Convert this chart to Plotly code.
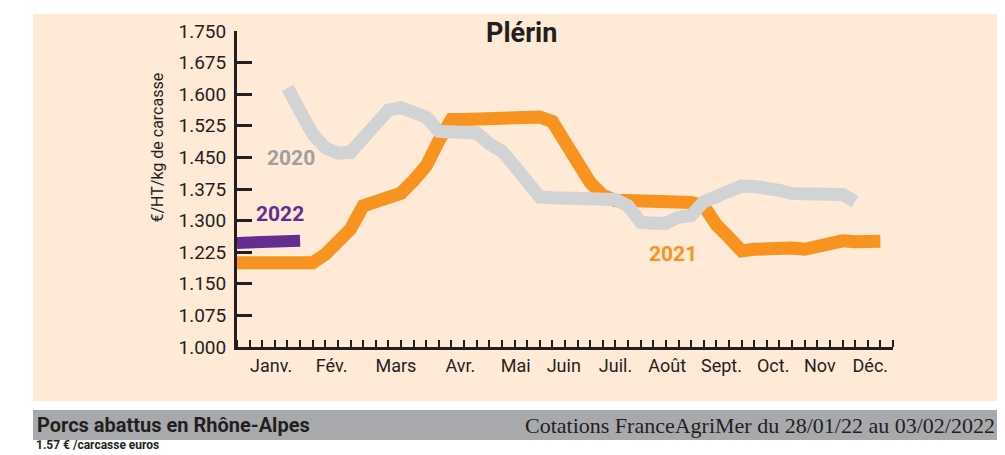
import plotly.graph_objects as go

# ---- data (weekly quotations, €/HT/kg carcasse) ----
weeks_2021 = list(range(0, 52))
vals_2021 = [1.200, 1.200, 1.200, 1.200, 1.200, 1.200, 1.200, 1.220, 1.245, 1.280,
             1.335, 1.345, 1.352, 1.365, 1.395, 1.430, 1.490, 1.540, 1.540, 1.540,
             1.541, 1.545, 1.546, 1.546, 1.546, 1.535, 1.490, 1.435, 1.390, 1.360,
             1.348, 1.348, 1.347, 1.347, 1.345, 1.345, 1.343, 1.335, 1.290, 1.260,
             1.228, 1.232, 1.234, 1.234, 1.235, 1.232, 1.240, 1.250, 1.252, 1.250,
             1.250, 1.251]

weeks_2020 = list(range(4, 50))
vals_2020 = [1.615, 1.565, 1.505, 1.473, 1.460, 1.462, 1.498, 1.537, 1.562, 1.568,
             1.558, 1.546, 1.512, 1.512, 1.512, 1.508, 1.482, 1.465, 1.430, 1.390,
             1.356, 1.354, 1.354, 1.354, 1.354, 1.354, 1.350, 1.335, 1.296, 1.294,
             1.294, 1.308, 1.312, 1.345, 1.360, 1.372, 1.382, 1.381, 1.380, 1.372,
             1.364, 1.363, 1.362, 1.362, 1.362, 1.345]

weeks_2022 = list(range(0, 6))
vals_2022 = [1.247, 1.248, 1.249, 1.250, 1.251, 1.252]

months = ["Janv.", "Fév.", "Mars", "Avr.", "Mai", "Juin", "Juil.", "Août",
          "Sept.", "Oct.", "Nov", "Déc."]
month_pos = [2.7, 7.5, 12.6, 17.7, 22.1, 25.9, 30.0, 34.1, 38.4, 42.5, 46.2, 50.2]

y_ticks = [1.000, 1.075, 1.150, 1.225, 1.300, 1.375, 1.450, 1.525, 1.600, 1.675, 1.750]

ORANGE = "#F7931E"
GREY = "#D1D3D4"
PURPLE = "#662D91"
DARK = "#231F20"
BEIGE = "#FFEAD8"

fig = go.Figure()
fig.add_trace(go.Scatter(x=weeks_2021, y=vals_2021, mode="lines",
                         line=dict(color=ORANGE, width=13), hoverinfo="skip"))
fig.add_trace(go.Scatter(x=weeks_2020, y=vals_2020, mode="lines",
                         line=dict(color=GREY, width=13), hoverinfo="skip"))
fig.add_trace(go.Scatter(x=weeks_2022, y=vals_2022, mode="lines",
                         line=dict(color=PURPLE, width=12), hoverinfo="skip"))

# background panels
fig.add_shape(type="rect", xref="paper", yref="paper", x0=-0.311, x1=1.2, y0=-0.171, y1=1.054,
              fillcolor=BEIGE, line_width=0, layer="below")
fig.add_shape(type="rect", xref="paper", yref="paper", x0=-0.311, x1=1.2, y0=-0.294, y1=-0.199,
              fillcolor="#A7A9AC", line_width=0, layer="below")

font_main = "Roboto, 'DejaVu Sans', sans-serif"

fig.update_layout(
    width=997, height=447,
    margin=dict(l=229, r=112, t=23, b=108),
    paper_bgcolor="white", plot_bgcolor="rgba(0,0,0,0)",
    showlegend=False,
    font=dict(family=font_main, color=DARK),
    xaxis=dict(range=[0, 52], tickmode="array", tickvals=month_pos, ticktext=months,
               ticks="", showgrid=False, zeroline=False,
               showline=True, linecolor=DARK, linewidth=3,
               tickfont=dict(size=18, color=DARK),
               minor=dict(tickmode="linear", tick0=0, dtick=1, ticks="inside",
                          ticklen=7, tickwidth=2, tickcolor=DARK, showgrid=False)),
    yaxis=dict(range=[1.0, 1.75], tickmode="array", tickvals=y_ticks,
               ticktext=[f"{v:.3f}" for v in y_ticks],
               ticks="inside", ticklen=15, tickwidth=3, tickcolor=DARK,
               showgrid=False, zeroline=False,
               showline=True, linecolor=DARK, linewidth=3,
               tickfont=dict(size=19, color=DARK), ticklabelstandoff=4),
)

fig.add_annotation(text="<b>Plérin</b>", xref="paper", yref="paper", x=0.433, y=0.994,
                   showarrow=False, font=dict(size=27, color=DARK), xanchor="center", yanchor="middle")
fig.add_annotation(text="€/HT/kg de carcasse", xref="paper", yref="paper", x=-0.121, y=0.63,
                   textangle=-90, showarrow=False, font=dict(size=16, color=DARK),
                   xanchor="center", yanchor="middle")
fig.add_annotation(text="<b>2020</b>", xref="x", yref="y", x=4.3, y=1.449, showarrow=False,
                   font=dict(size=21, color="#9D9FA2"))
fig.add_annotation(text="<b>2022</b>", xref="x", yref="y", x=3.4, y=1.316, showarrow=False,
                   font=dict(size=21, color=PURPLE))
fig.add_annotation(text="<b>2021</b>", xref="x", yref="y", x=34.6, y=1.221, showarrow=False,
                   font=dict(size=21, color=ORANGE))

fig.add_annotation(text="<b>Porcs abattus en Rhône-Alpes</b>", xref="paper", yref="paper",
                   x=-0.308, y=-0.247, xanchor="left", yanchor="middle", showarrow=False,
                   font=dict(size=20, color=DARK))
fig.add_annotation(text="Cotations FranceAgriMer du 28/01/22 au 03/02/2022", xref="paper", yref="paper",
                   x=1.159, y=-0.247, xanchor="right", yanchor="middle", showarrow=False,
                   font=dict(size=22, color=DARK, family="'Liberation Serif', serif"))
fig.add_annotation(text="<b>1.57 € /carcasse euros</b>", xref="paper", yref="paper",
                   x=-0.308, y=-0.337, xanchor="left", yanchor="bottom", showarrow=False,
                   borderpad=0, font=dict(size=12, color=DARK))

fig.write_html("out.html")
